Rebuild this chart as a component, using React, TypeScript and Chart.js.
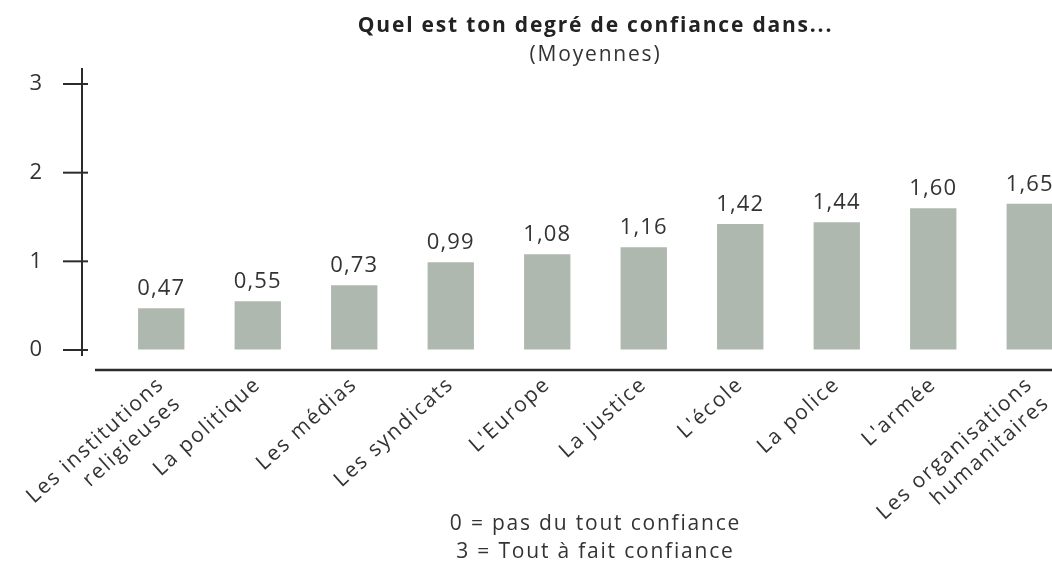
import React, { useEffect, useRef } from "react";
import { Chart, registerables } from "chart.js";

Chart.register(...registerables);

const categories: (string | string[])[] = [
  ["Les institutions", "religieuses"],
  "La politique",
  "Les médias",
  "Les syndicats",
  "L'Europe",
  "La justice",
  "L'école",
  "La police",
  "L'armée",
  ["Les organisations", "humanitaires"],
];
const values = [0.47, 0.55, 0.73, 0.99, 1.08, 1.16, 1.42, 1.44, 1.6, 1.65];
const yTicks = [0, 1, 2, 3];
const titleText = "Quel est ton degré de confiance dans...";
const subtitleText = "(Moyennes)";
const noteLines = ["0 = pas du tout confiance", "3 = Tout à fait confiance"];

const FONT = "'Open Sans', 'DejaVu Sans', sans-serif";
const TEXT = "#333333";
const BAR = "#aeb8ae";
const AXIS = "#2b2b2b";
const SPACING = "1.8px";

const fmt = (v: number) => v.toFixed(2).replace(".", ",");

const decor = {
  id: "decor",
  beforeUpdate(chart: any) {
    chart.ctx.letterSpacing = SPACING;
  },
  beforeDraw(chart: any) {
    chart.ctx.letterSpacing = SPACING;
  },
  afterDraw(chart: any) {
    const { ctx, chartArea, scales } = chart;
    const y = scales.y;
    const cx = (chartArea.left + chartArea.right) / 2;
    ctx.save();
    // y axis line + crossing ticks
    const ax = chartArea.left - 31;
    ctx.strokeStyle = AXIS;
    ctx.lineWidth = 2;
    ctx.beginPath();
    ctx.moveTo(ax, y.getPixelForValue(3) - 16);
    ctx.lineTo(ax, y.getPixelForValue(0) + 6);
    ctx.stroke();
    yTicks.forEach((t) => {
      const py = y.getPixelForValue(t);
      ctx.beginPath();
      ctx.moveTo(ax - 19, py);
      ctx.lineTo(ax + 6, py);
      ctx.stroke();
    });
    // x axis line
    ctx.lineWidth = 2.5;
    ctx.beginPath();
    const xy = chartArea.bottom + 20;
    ctx.moveTo(chartArea.left - 18, xy);
    ctx.lineTo(chart.width, xy);
    ctx.stroke();
    // value labels
    const meta = chart.getDatasetMeta(0);
    ctx.fillStyle = TEXT;
    ctx.letterSpacing = "1.2px";
    ctx.font = `22px ${FONT}`;
    ctx.textAlign = "center";
    ctx.textBaseline = "alphabetic";
    meta.data.forEach((bar: any, i: number) => {
      ctx.fillText(fmt(values[i]), bar.x, bar.y - 13);
    });
    // title
    ctx.letterSpacing = SPACING;
    ctx.textBaseline = "middle";
    ctx.font = `bold 21px ${FONT}`;
    ctx.fillStyle = "#222222";
    ctx.fillText(titleText, cx, 26);
    ctx.font = `21px ${FONT}`;
    ctx.fillStyle = TEXT;
    ctx.fillText(subtitleText, cx, 55);
    // note
    ctx.fillText(noteLines[0], cx, 524);
    ctx.fillText(noteLines[1], cx, 552);
    ctx.restore();
  },
};

export default function App() {
  const ref = useRef<HTMLCanvasElement>(null);
  useEffect(() => {
    document.body.style.margin = "0";
    const chart = new Chart(ref.current!, {
      type: "bar",
      data: {
        labels: categories,
        datasets: [
          {
            data: values,
            backgroundColor: BAR,
            borderWidth: 0,
            categoryPercentage: 1,
            barPercentage: 0.48,
          },
        ],
      },
      options: {
        animation: false,
        responsive: false,
        layout: { padding: { top: 84, right: 0, left: 0, bottom: 0 } },
        plugins: { legend: { display: false }, tooltip: { enabled: false }, title: { display: false } },
        scales: {
          x: {
            grid: { display: false, drawTicks: false },
            border: { display: false },
            ticks: {
              color: TEXT,
              font: { family: FONT, size: 21 },
              maxRotation: 42,
              minRotation: 42,
              padding: 22,
              autoSkip: false,
            },
            afterFit: (s: any) => {
              s.height = 212;
              s.paddingLeft = 0;
              s.paddingRight = 0;
            },
          },
          y: {
            min: 0,
            max: 3,
            grid: { drawOnChartArea: false, drawTicks: false },
            border: { display: false },
            ticks: {
              stepSize: 1,
              color: TEXT,
              font: { family: FONT, size: 22 },
              padding: 69,
            },
            afterFit: (s: any) => {
              s.width = 113;
              s.paddingTop = 0;
              s.paddingBottom = 0;
            },
          },
        },
      },
      plugins: [decor],
    });
    return () => chart.destroy();
  }, []);
  return (
    <div style={{ position: "fixed", left: 0, top: 0, width: 1052, height: 562, overflow: "hidden", background: "#fff" }}>
      <canvas ref={ref} width={1078} height={562} style={{ display: "block" }} />
    </div>
  );
}
